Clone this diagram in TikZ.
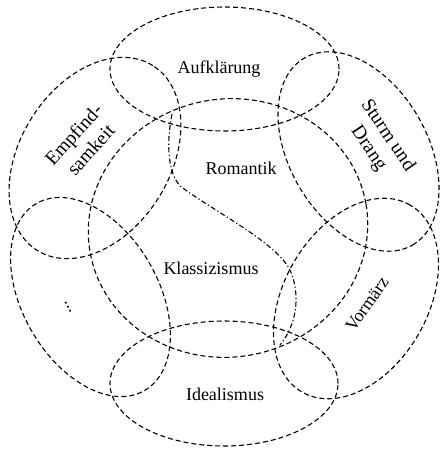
\documentclass[tikz,border=0pt]{standalone}
\usepackage{fontspec}
\setmainfont{Liberation Serif}
\usetikzlibrary{shapes.geometric}
\begin{document}
\begin{tikzpicture}[x=1pt,y=-1pt,
  petal/.style={draw, ellipse, inner sep=0pt, line width=1.1pt, dash pattern=on 5pt off 3pt},
  lbl/.style={font=\fontsize{18}{22}\selectfont, align=center, inner sep=0pt},
  biglbl/.style={font=\fontsize{19.5}{23}\selectfont, align=center, inner sep=0pt},
  divider/.style={line width=1.1pt, dash pattern=on 5pt off 2.5pt on 1.2pt off 2.5pt}]
\useasboundingbox (0,0) rectangle (441,449);
% petals
\node[petal, minimum width=229pt, minimum height=124pt] (auf) at (224.5,69) {};
\node[petal, minimum width=216pt, minimum height=138pt, rotate=-60] (sud) at (358.5,151.5) {};
\node[petal, minimum width=216pt, minimum height=144pt, rotate=60] (vor) at (356,298.5) {};
\node[petal, minimum width=228pt, minimum height=125pt] (ide) at (224,383.5) {};
\node[petal, minimum width=216pt, minimum height=136pt, rotate=-60] (dots) at (90.5,297) {};
\node[petal, minimum width=218pt, minimum height=150pt, rotate=58] (emp) at (95,158) {};
% central ellipse
\node[petal, minimum width=280pt, minimum height=258pt, rotate=10] (mid) at (228,228) {};
% divider Romantik / Klassizismus
\coordinate (rs) at (172,114);
\coordinate (re) at (280,345);
\draw[divider] (rs) .. controls (166,145) and (168,172) .. (180,186)
  .. controls (215,212) and (272,240) .. (289,268)
  .. controls (300,290) and (299,322) .. (re);
% labels
\node[lbl] (tauf) at (219,69) {Aufklärung};
\node[lbl] (trom) at (241,168) {Romantik};
\node[lbl] (tkla) at (211,268) {Klassizismus};
\node[lbl] (tide) at (225,394) {Idealismus};
\node[lbl, rotate=55] (tvor) at (367,304) {Vormärz};
\node[biglbl, rotate=-56] (tsud) at (378,142) {Sturm und\\Drang};
\node[biglbl, rotate=48] (temp) at (82,142) {Empfind-\\samkeit};
\node[lbl, rotate=-63] (tdot) at (68,307) {...};
\end{tikzpicture}
\end{document}
